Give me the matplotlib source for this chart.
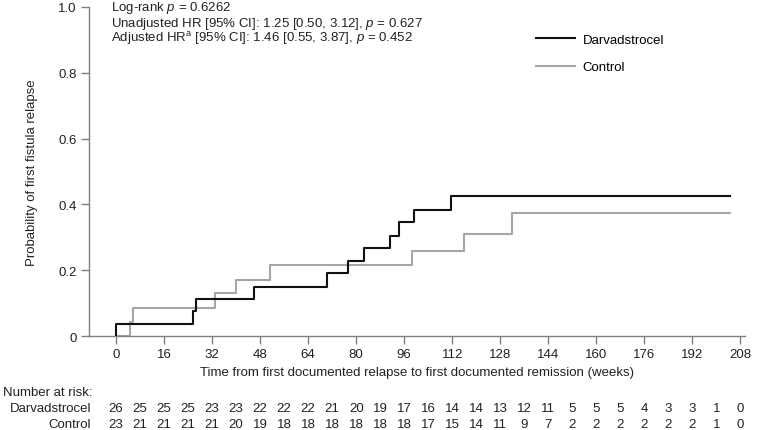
import matplotlib
matplotlib.use("Agg")
from matplotlib import pyplot as plt
from matplotlib import transforms

plt.rcParams['font.family'] = ['Liberation Sans', 'DejaVu Sans']
plt.rcParams['mathtext.fontset'] = 'custom'
plt.rcParams['mathtext.rm'] = 'Liberation Sans'
plt.rcParams['mathtext.it'] = 'Liberation Sans:italic'

# step curves (weeks, cumulative probability)
darva_t = [0, 0, 25.7, 26.8, 46.0, 70.4, 77.3, 82.5, 91.4, 94.3, 99.3, 111.7, 204.6]
darva_p = [0, 0.036, 0.075, 0.111, 0.148, 0.190, 0.227, 0.267, 0.305, 0.345, 0.382, 0.425, 0.425]
ctrl_t = [0, 4.7, 5.5, 33.0, 40.0, 51.2, 98.6, 115.8, 131.9, 204.6]
ctrl_p = [0, 0.043, 0.085, 0.130, 0.170, 0.215, 0.258, 0.309, 0.374, 0.374]

risk_weeks = list(range(0, 209, 8))
risk_darva = [26, 25, 25, 25, 23, 23, 22, 22, 22, 21, 20, 19, 17, 16, 14, 14, 13, 12, 11, 5, 5, 5, 4, 3, 3, 1, 0]
risk_ctrl = [23, 21, 21, 21, 21, 20, 19, 18, 18, 18, 18, 18, 18, 17, 15, 14, 11, 9, 7, 2, 2, 2, 2, 2, 2, 1, 0]

x_ticks = list(range(0, 209, 16))
y_ticks = [0, 0.2, 0.4, 0.6, 0.8, 1.0]
y_labels = ['0', '0.2', '0.4', '0.6', '0.8', '1.0']

black = '#111111'
grey = '#a6a6a6'
axis_col = '#808080'
txt = '#222222'
fs = 9.5

W, H = 759, 431
fig = plt.figure(figsize=(W / 100, H / 100), dpi=100)
ax = fig.add_axes([89 / W, 1 - 337 / H, 656 / W, 329 / H])

ax.step(ctrl_t, ctrl_p, where='post', color=grey, lw=1.5, label='Control', zorder=2)
ax.step(darva_t, darva_p, where='post', color=black, lw=1.5, label='Darvadstrocel', zorder=3)

ax.set_xlim(-9, 209.5)
ax.set_ylim(0, 1.0)
ax.set_xticks(x_ticks)
ax.set_yticks(y_ticks)
ax.set_yticklabels(y_labels)
for s in ['top', 'right']:
    ax.spines[s].set_visible(False)
for s in ['left', 'bottom']:
    ax.spines[s].set_color(axis_col)
    ax.spines[s].set_linewidth(1.0)
ax.tick_params(axis='both', colors=axis_col, labelcolor=txt, labelsize=fs,
               length=6, width=1.0, pad=3)

ax.set_xlabel('Time from first documented relapse to first documented remission (weeks)',
              fontsize=fs, color=txt, labelpad=4)
ax.set_ylabel('Probability of first fistula relapse', fontsize=fs, color=txt)
ax.yaxis.set_label_coords(-0.078, 0.5)

# stats text, placed in figure pixels
stats = [
    'Log-rank $p$ = 0.6262',
    'Unadjusted HR [95% CI]: 1.25 [0.50, 3.12], $p$ = 0.627',
    'Adjusted HR$^{\\mathrm{a}}$ [95% CI]: 1.46 [0.55, 3.87], $p$ = 0.452',
]
for i, line in enumerate(stats):
    fig.text(111 / W, 1 - (8 + 15.5 * i) / H, line, fontsize=fs, color=txt,
             va='center', ha='left')

leg = ax.legend(handles=[ax.lines[1], ax.lines[0]], loc='upper left',
                bbox_to_anchor=(0.663, 0.955), frameon=False, fontsize=fs,
                handlelength=3.0, handletextpad=0.55, labelspacing=1.15)

# number at risk table
trans = transforms.blended_transform_factory(ax.transData, fig.transFigure)
fig.text(3 / W, 1 - 393 / H, 'Number at risk:', fontsize=fs, color=txt, va='center', ha='left')
fig.text(91 / W, 1 - 409 / H, 'Darvadstrocel', fontsize=fs, color=txt, va='center', ha='right')
fig.text(91 / W, 1 - 425 / H, 'Control', fontsize=fs, color=txt, va='center', ha='right')
for w, d, c in zip(risk_weeks, risk_darva, risk_ctrl):
    ax.text(w, 1 - 409 / H, str(d), transform=trans, fontsize=fs, color=txt,
            ha='center', va='center', clip_on=False)
    ax.text(w, 1 - 425 / H, str(c), transform=trans, fontsize=fs, color=txt,
            ha='center', va='center', clip_on=False)

fig.savefig('out.png', dpi=100)
